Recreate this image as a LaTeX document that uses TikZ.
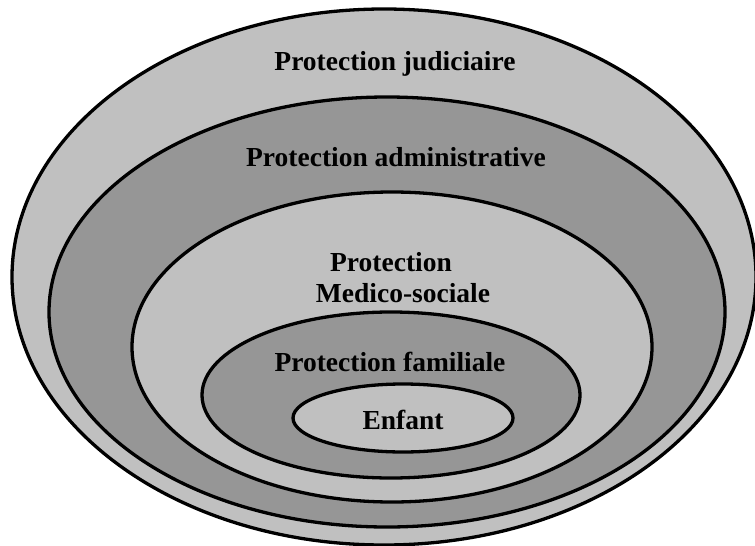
\documentclass[tikz,border=0pt]{standalone}
\usepackage{fontspec}
\setmainfont{Liberation Serif}
\usepackage{tikz}
\usetikzlibrary{shapes.geometric}
\definecolor{lightgrey}{HTML}{C0C0C0}
\definecolor{darkgrey}{HTML}{969696}

\begin{document}
\begin{tikzpicture}[x=1pt,y=-1pt,
  ring/.style={ellipse,draw=black,line width=3.3pt,inner sep=0pt},
  light ring/.style={ring,fill=lightgrey},
  dark ring/.style={ring,fill=darkgrey},
  label node/.style={font=\fontsize{27.5}{31}\selectfont\bfseries,align=center,inner sep=0pt}]

  \useasboundingbox (0,0) rectangle (755,546);

  \node[light ring,minimum width=744pt,minimum height=536pt] (1) at (384,277) {};
  \node[dark ring,minimum width=676pt,minimum height=430pt] (2) at (387,312) {};
  \node[light ring,minimum width=520pt,minimum height=310pt] (3) at (392,347) {};
  \node[dark ring,minimum width=378pt,minimum height=166pt] (4) at (391,395) {};
  \node[light ring,minimum width=220pt,minimum height=68pt] (5) at (403,418) {};

  \node[label node] (judiciaire) at (395,64) {Protection judiciaire};
  \node[label node] (administrative) at (396,157) {Protection administrative};
  \node[label node] (medico) at (391,278) {Protection\\\hspace*{24pt}Medico-sociale};
  \node[label node] (familiale) at (390,362) {Protection familiale};
  \node[label node] (enfant) at (403,420) {Enfant};
\end{tikzpicture}
\end{document}
